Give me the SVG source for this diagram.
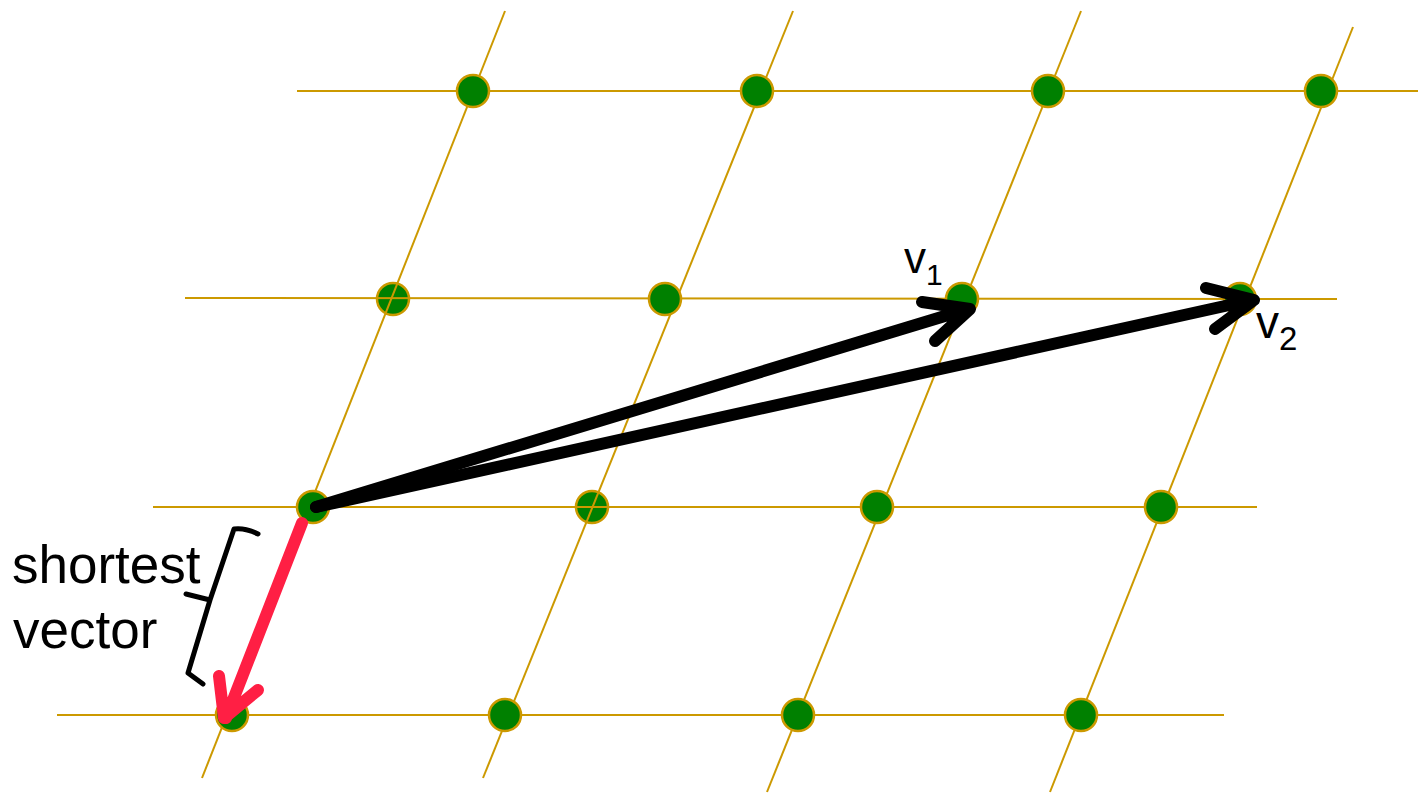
<svg xmlns="http://www.w3.org/2000/svg" width="1418" height="793" viewBox="0 0 1418 793">
<style>
.g{stroke:#CC9900;stroke-width:2;fill:none}
.d{fill:#008000;stroke:#CC9900;stroke-width:2.5}
.blk{stroke:#000;stroke-width:12;stroke-linecap:round;stroke-linejoin:round;fill:none}
.red{stroke:#FF1F44;stroke-width:12;stroke-linecap:round;stroke-linejoin:round;fill:none}
.t{font-family:"Liberation Sans",Arial,sans-serif;fill:#000}
</style>
<rect width="1418" height="793" fill="#fff"/>
<g id="dots-under">
<circle class="d" cx="393" cy="299" r="16"/>
<circle class="d" cx="592" cy="507" r="16"/>
</g>
<g id="lattice-lines">
<line class="g" x1="297" y1="91" x2="1418" y2="91"/>
<line class="g" x1="185" y1="298" x2="1337" y2="299"/>
<line class="g" x1="153" y1="507" x2="1257" y2="507"/>
<line class="g" x1="57" y1="715" x2="1224" y2="715"/>
<line class="g" x1="505" y1="11" x2="202" y2="778"/>
<line class="g" x1="793" y1="11" x2="483" y2="778"/>
<line class="g" x1="1081" y1="11" x2="767" y2="792"/>
<line class="g" x1="1353" y1="27" x2="1050" y2="792"/>
</g>
<g id="dots">
<circle class="d" cx="473" cy="91" r="16"/>
<circle class="d" cx="757" cy="91" r="16"/>
<circle class="d" cx="1048" cy="91" r="16"/>
<circle class="d" cx="1321" cy="91" r="16"/>
<circle class="d" cx="665" cy="299" r="16"/>
<circle class="d" cx="962" cy="299" r="16"/>
<circle class="d" cx="1240" cy="299" r="16"/>
<circle class="d" cx="313" cy="507" r="16"/>
<circle class="d" cx="877" cy="507" r="16"/>
<circle class="d" cx="1161" cy="507" r="16"/>
<circle class="d" cx="232" cy="715" r="16"/>
<circle class="d" cx="505" cy="715" r="16"/>
<circle class="d" cx="798" cy="715" r="16"/>
<circle class="d" cx="1081" cy="715" r="16"/>
</g>
<g id="connectors">
<path class="blk" d="M316 507 L968 309 M922 302 L970 309 L935 341"/>
<path class="blk" d="M316 507 L1252 300 M1206 288 L1254 300 L1215 329"/>
<path class="red" d="M302 523 L226 718 M219 676 L224 718 L258 690"/>
</g>
<g id="brace">
<path d="M258 534 C250 530 242 528 234 529 L210 600 L186 594 M210 600 L188 673 L203 684" stroke="#000" stroke-width="5" fill="none" stroke-linejoin="round" stroke-linecap="round"/>
</g>
<g id="labels">
<text class="t" x="12" y="583" font-size="53">shortest</text>
<text class="t" x="13" y="648" font-size="53">vector</text>
<text class="t" x="904" y="273" font-size="44">v<tspan font-size="30" dy="12">1</tspan></text>
<text class="t" x="1256" y="338" font-size="46">v<tspan font-size="33" dy="12">2</tspan></text>
</g>
</svg>
